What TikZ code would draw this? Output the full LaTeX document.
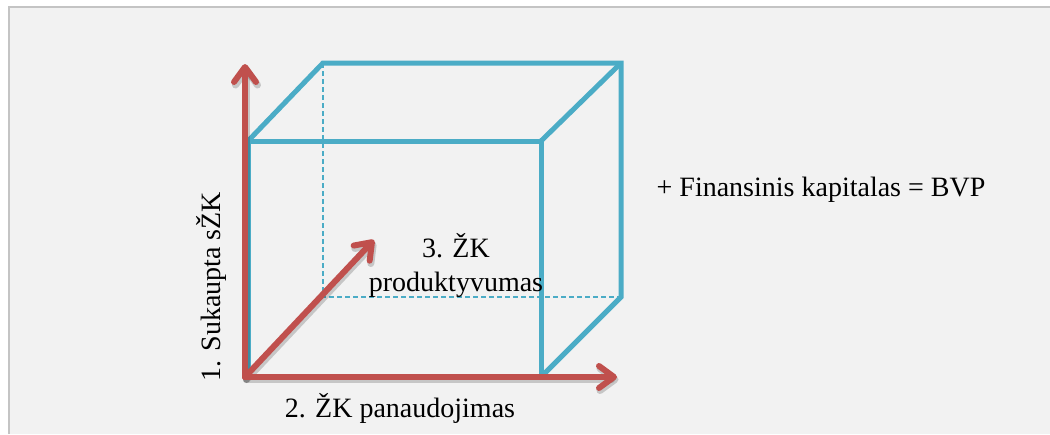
\documentclass[tikz,border=0pt]{standalone}
\usepackage{fontspec}
\setmainfont{Liberation Serif}
\usetikzlibrary{arrows.meta}
\definecolor{axisred}{HTML}{C0504D}
\definecolor{cubeblue}{HTML}{4BACC6}
\definecolor{panelgray}{HTML}{F2F2F2}
\definecolor{framegray}{HTML}{C4C4C4}
\begin{document}
\begin{tikzpicture}[x=1pt,y=-1pt,
  edge/.style={draw=cubeblue,line width=5pt,line join=miter},
  hidden/.style={draw=cubeblue,line width=1.5pt,dash pattern=on 5pt off 3pt},
  axis/.style={draw=axisred,line width=6pt,line cap=round,
    -{Straight Barb[length=15pt,width=22pt,round]}},
  axisshade/.style={draw=black,opacity=.18,line width=7pt,line cap=round,
    -{Straight Barb[length=15pt,width=22pt,round]}},
  textbox/.style={font=\fontsize{28}{34}\selectfont,align=center,inner sep=0pt}]
\useasboundingbox (0,0) rectangle (1050,434);
\fill[white] (0,0) rectangle (1050,434);
\fill[panelgray] (9,7) rectangle (1050,434);
\draw[framegray,line width=1.5pt] (9,434) -- (9,7) -- (1050,7);

\coordinate (fTL) at (248,141);
\coordinate (fTR) at (541,141);
\coordinate (fBR) at (541,377);
\coordinate (fBL) at (248,377);
\coordinate (bTL) at (323,63);
\coordinate (bTR) at (621,63);
\coordinate (bBR) at (621,297);
\coordinate (bBL) at (323,297);

\draw[hidden] (bTL) -- (bBL) -- (bBR);
\draw[edge] (fBL) -- (fTL) -- (fTR) -- (fBR) -- cycle;
\draw[edge] (fTL) -- (bTL) -- (bTR) -- (bBR) -- (fBR);
\draw[edge] (fTR) -- (bTR);

\coordinate (origin) at (245,377);
\coordinate (upTip) at (245,64);
\coordinate (rightTip) at (617,377);
\coordinate (deepTip) at (374,240);

\begin{scope}[transform canvas={shift={(1.5pt,-2.5pt)}}]
\draw[axisshade] (origin) -- (upTip);
\draw[axisshade] (origin) -- (rightTip);
\draw[axisshade] (origin) -- (deepTip);
\end{scope}
\draw[axis] (origin) -- (upTip);
\draw[axis] (origin) -- (rightTip);
\draw[axis] (origin) -- (deepTip);

\node (sukaupta) [textbox,rotate=90] at (211,287) {1. Sukaupta sŽK};
\node (panaudojimas) [textbox] at (400,408) {2. ŽK panaudojimas};
\node (produktyvumas) [textbox] at (456,265) {3. ŽK\\produktyvumas};
\node (finansinis) [textbox] at (821,190) {+ Finansinis kapitalas = BVP};
\end{tikzpicture}
\end{document}
